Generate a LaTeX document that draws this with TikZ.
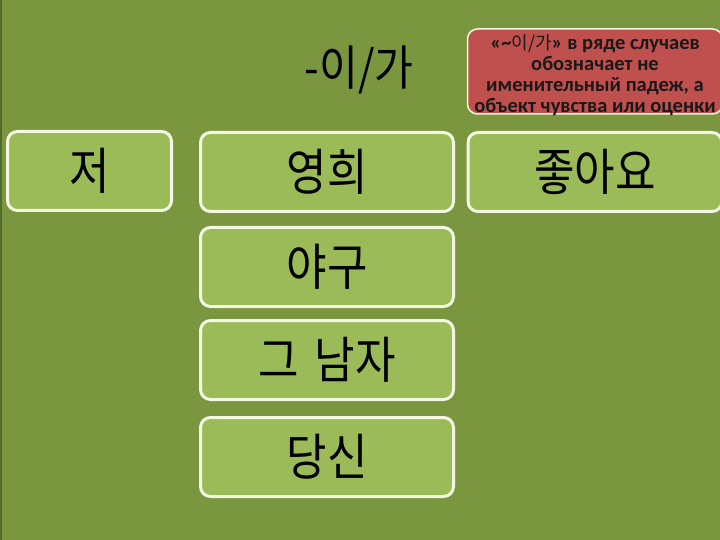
\documentclass[tikz,border=0pt]{standalone}
\usepackage{fontspec}
\setmainfont{Carlito}
\newfontfamily\kr[FakeStretch=0.88]{Noto Sans CJK KR}
\newfontfamily\krsmall{Noto Sans CJK KR}
\definecolor{bgolive}{HTML}{7A963E}
\definecolor{boxgreen}{HTML}{9BBB59}
\definecolor{boxedge}{HTML}{F4F7E2}
\definecolor{redbox}{HTML}{C0504D}
\definecolor{darkstrip}{HTML}{55692A}
\tikzset{
  wordbox/.style={draw=boxedge, line width=3pt, fill=boxgreen, rounded corners=10pt, inner sep=0pt, font=\kr\fontsize{50}{54}\selectfont, text=black},
  notebox/.style={draw=boxedge, line width=1.5pt, fill=redbox, rounded corners=10pt, inner sep=0pt},
  notetext/.style={inner sep=0pt, align=center, text=black!90, font=\bfseries\fontsize{20.5}{21}\selectfont},
}
\begin{document}
\begin{tikzpicture}[x=1pt,y=-1pt]
\useasboundingbox (0,0) rectangle (720,540);
\clip (0,0) rectangle (720,540);
\fill[bgolive] (0,0) rectangle (720,540);
\fill[darkstrip] (0,0) rectangle (2,540);
\node[wordbox, minimum width=164pt, minimum height=79pt] (jeo) at (89.5,171) {저};
\node[wordbox, minimum width=253pt, minimum height=79pt] (yh) at (327,172) {영희};
\node[wordbox, minimum width=253pt, minimum height=79pt] (yg) at (327,267) {야구};
\node[wordbox, minimum width=253pt, minimum height=79pt] (gn) at (327,360) {그\hspace{6pt} 남자};
\node[wordbox, minimum width=253pt, minimum height=79pt] (ds) at (327,457) {당신};
\node[wordbox, minimum width=254pt, minimum height=79pt] (jo) at (595,172) {좋아요};
\node[notebox, minimum width=255pt, minimum height=85pt] (note) at (595,71.5) {};
\node[notetext] (notelabel) at ([yshift=-3.5pt]note.center) {«\textasciitilde{\krsmall\mdseries\fontsize{18}{21}\selectfont 이/가}» в ряде случаев\\обозначает не\\именительный падеж, а\\объект чувства или оценки};
\node[font=\kr\fontsize{48}{52}\selectfont, text=black, inner sep=0pt] (ig) at (359,70) {-이/가};
\end{tikzpicture}
\end{document}
